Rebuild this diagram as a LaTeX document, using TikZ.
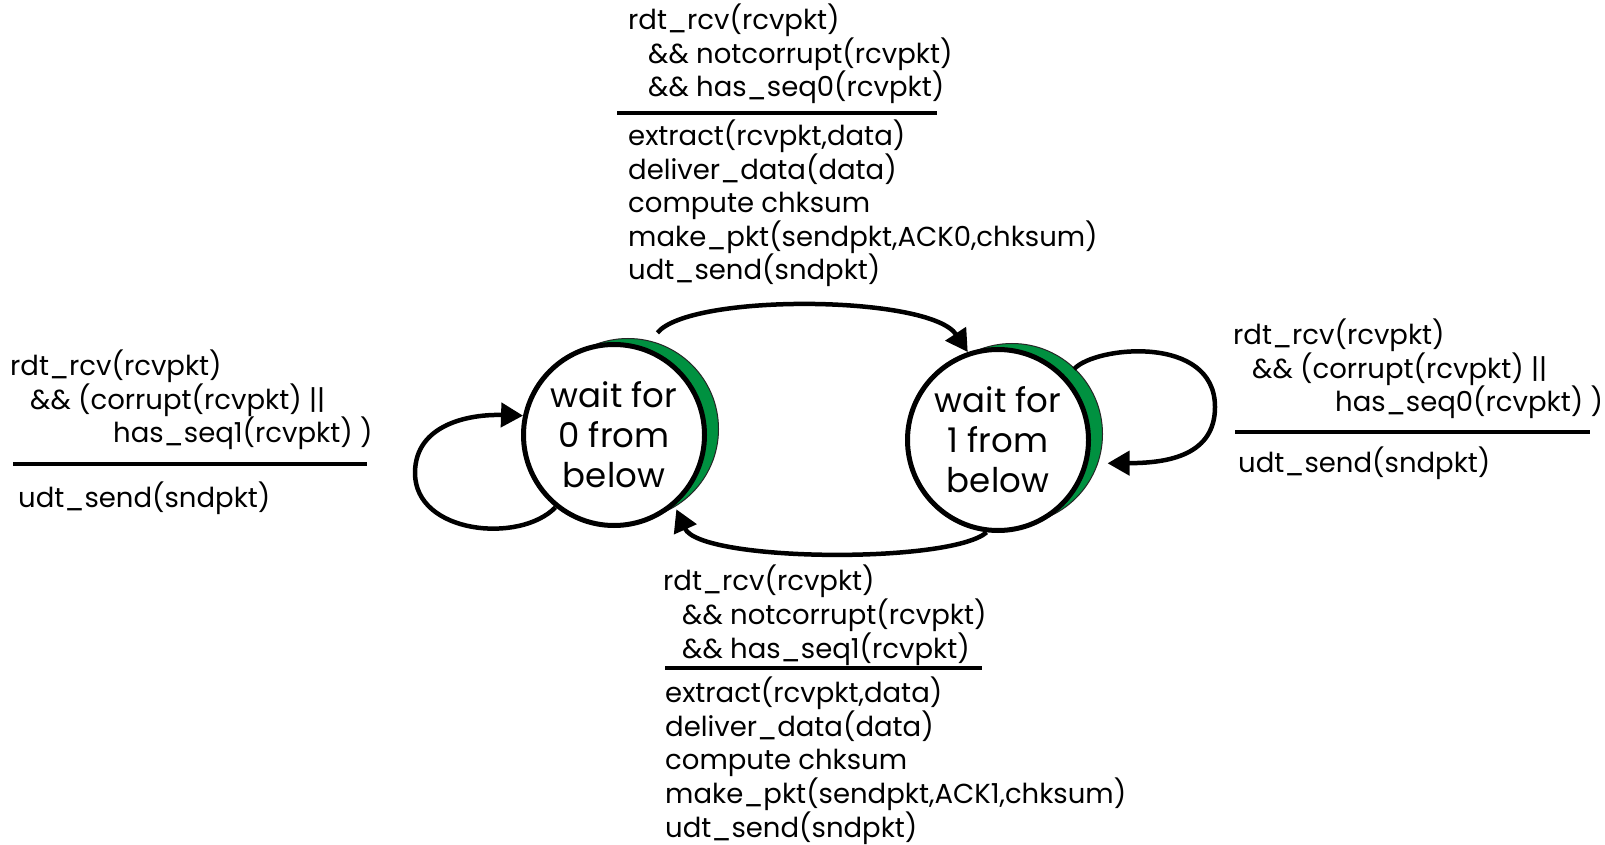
\documentclass[tikz,border=0pt]{standalone}
\usepackage{fontspec}
\setmainfont{Poppins}
\usetikzlibrary{arrows.meta,calc}
\definecolor{stategreen}{RGB}{0,145,64}
\begin{document}
\begin{tikzpicture}[x=1pt,y=1pt,
  state/.style={circle, draw=black, line width=5pt, fill=white, minimum size=181pt, inner sep=0pt, align=center, font=\fontsize{34}{40}\selectfont},
  shadow/.style={circle, draw=black!85, line width=1pt, fill=stategreen, minimum size=181pt, inner sep=0pt},
  trans/.style={line width=4.5pt, -{Triangle[length=22pt,width=24pt]}},
  lbl/.style={anchor=base west, align=left, inner sep=0pt, font=\fontsize{27.5}{32.7}\selectfont},
  rulel/.style={line width=4pt}]
\useasboundingbox[fill=white] (0,0) rectangle (1605,844);

% states
\node[shadow] (g0) at (628,415) {};
\node[state] (s0) at (614,409) {wait for\\0 from\\below};
\node[shadow] (g1) at (1012,410) {};
\node[state] (s1) at (998,404) {wait for\\1 from\\below};

% connector end points
\coordinate (t0s) at ($(s0.center)+(67:111)$);
\coordinate (b0e) at ($(s0.center)+(-50:97)$);
\coordinate (l1s) at ($(s1.center)+(43:104)$);
\coordinate (l1e) at ($(s1.center)+(-12:112)$);

% transitions
\draw[trans] (t0s) .. controls (690,551) and (930,549) .. (s1.109);
\draw[trans] (s1.263) .. controls (950,280) and (700,282) .. (b0e);
\draw[trans] (s0.231) .. controls (520,300) and (415,310) .. (415,371)
                      .. controls (415,420) and (470,430) .. (s0.168);
\draw[trans] (l1s) .. controls (1095,498) and (1215,510) .. (1215,437)
                   .. controls (1215,385) and (1160,381) .. (l1e);

% top label (anchor = baseline of last line)
\node[lbl] (g01) at (628,747) {rdt\_rcv(rcvpkt)\\\hspace*{20pt}\&\& notcorrupt(rcvpkt)\\\hspace*{20pt}\&\& has\_seq0(rcvpkt)};
\draw[rulel] (617,731) -- (937,731);
\node[lbl] (a01) at (628,564) {extract(rcvpkt,data)\\deliver\_data(data)\\compute chksum\\make\_pkt(sendpkt,ACK0,chksum)\\udt\_send(sndpkt)};

% bottom label
\node[lbl] (g10) at (663,186) {rdt\_rcv(rcvpkt)\\\hspace*{19pt}\&\& notcorrupt(rcvpkt)\\\hspace*{19pt}\&\& has\_seq1(rcvpkt)};
\draw[rulel] (665,176) -- (982,176);
\node[lbl] (a10) at (665,7) {extract(rcvpkt,data)\\deliver\_data(data)\\compute chksum\\make\_pkt(sendpkt,ACK1,chksum)\\udt\_send(sndpkt)};

% left label
\node[lbl] (g00) at (10,401) {rdt\_rcv(rcvpkt)\\\hspace*{20pt}\&\& (corrupt(rcvpkt) ||\\\hspace*{103pt}has\_seq1(rcvpkt) )};
\draw[rulel] (13,380) -- (367,380);
\node[lbl] (a00) at (18,337) {udt\_send(sndpkt)};

% right label
\node[lbl] (g11) at (1233,432) {rdt\_rcv(rcvpkt)\\\hspace*{19pt}\&\& (corrupt(rcvpkt) ||\\\hspace*{102pt}has\_seq0(rcvpkt) )};
\draw[rulel] (1235,412) -- (1590,412);
\node[lbl] (a11) at (1238,371) {udt\_send(sndpkt)};
\end{tikzpicture}
\end{document}
